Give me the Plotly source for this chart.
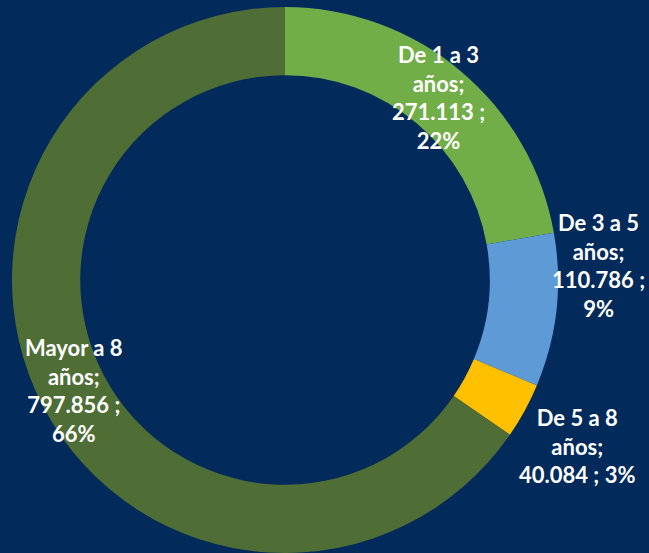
import math
import plotly.graph_objects as go

# ---- data ----
categories = ["De 1 a 3 años", "De 3 a 5 años", "De 5 a 8 años", "Mayor a 8 años"]
label_lines = [["De 1 a 3", "años;"], ["De 3 a 5", "años;"], ["De 5 a 8", "años;"], ["Mayor a 8", "años;"]]
values = [271113, 110786, 40084, 797856]
percent_labels = [22, 9, 3, 66]

# ---- style ----
colors = ["#72AE48", "#5D9AD6", "#FFC000", "#4E6E36"]
bg = "#022A5B"
W, H = 649, 553
cx, cy, R = 285, 280, 273          # pixel geometry of the donut
hole = 0.75
# label placement: radial distance as fraction of R, angle shift (deg)
label_rfrac = [0.872, 1.15, 1.23, 0.872]
label_dang = [0, -9, 1, 0]
label_joinlast = [False, False, True, False]

def fmt_es(v):
    return f"{v:,}".replace(",", ".")

total = sum(values)
fig = go.Figure(go.Pie(
    labels=categories, values=values, sort=False, direction="clockwise",
    rotation=0, hole=hole, textinfo="none", hoverinfo="label+value+percent",
    marker=dict(colors=colors, line=dict(width=0)),
    domain=dict(x=[(cx - R) / W, (cx + R) / W], y=[(H - cy - R) / H, (H - cy + R) / H]),
    showlegend=False,
))

annotations = []
cum = 0
for i, v in enumerate(values):
    frac = v / total
    mid = (cum + frac / 2) * 360 + label_dang[i]
    cum += frac
    r = R * label_rfrac[i]
    px = cx + r * math.sin(math.radians(mid))
    py = cy - r * math.cos(math.radians(mid))
    pct = f"{percent_labels[i]}%"
    lines = list(label_lines[i])
    if label_joinlast[i]:
        lines.append(f"{fmt_es(v)} ; {pct}")
    else:
        lines += [f"{fmt_es(v)} ;", pct]
    annotations.append(dict(
        x=px / W, y=1 - py / H, xref="paper", yref="paper",
        text="<br>".join(lines), showarrow=False, align="center",
        xanchor="center", yanchor="middle",
        font=dict(family="Lato", size=22, color="white", weight="bold"),
    ))

fig.update_layout(
    width=W, height=H, margin=dict(l=0, r=0, t=0, b=0),
    paper_bgcolor=bg, plot_bgcolor=bg, annotations=annotations,
)
fig.write_html(
    "out.html",
    config={"displayModeBar": False},
    post_script="document.body.style.margin='0';document.body.style.overflow='hidden';document.body.style.background='" + bg + "';",
)
